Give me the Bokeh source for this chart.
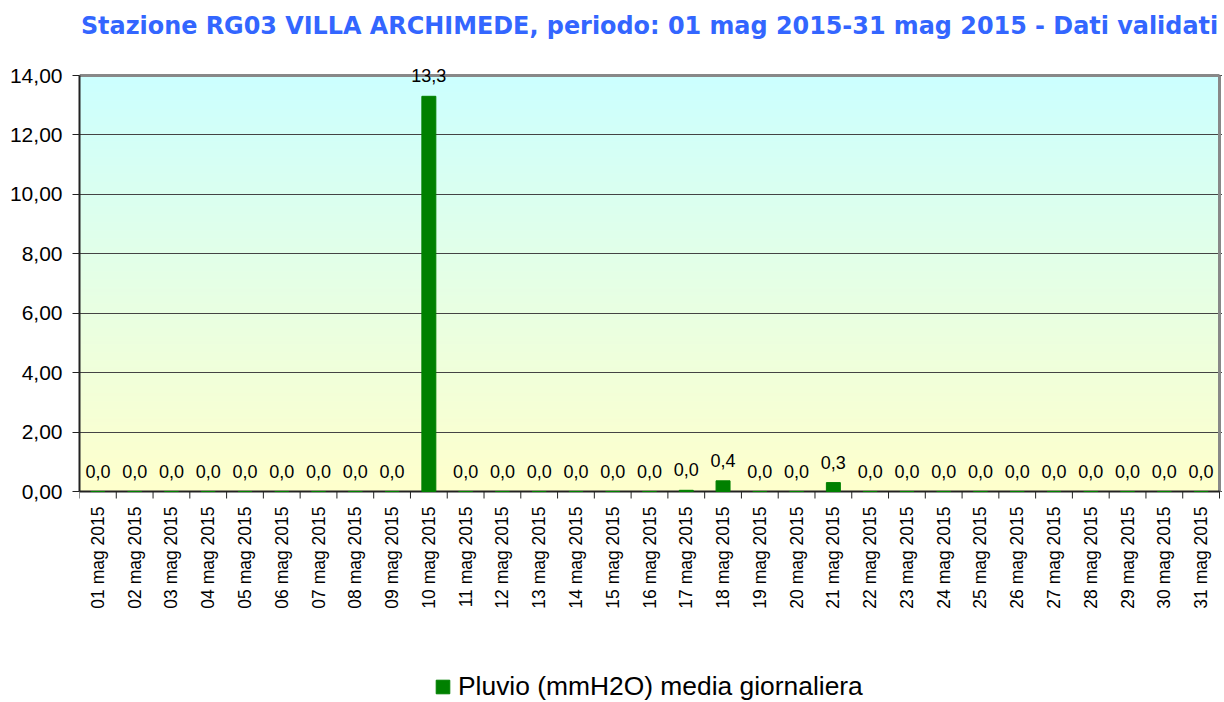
import numpy as np
from bokeh.plotting import figure
from bokeh.models import (Range1d, FixedTicker, ColumnDataSource, Legend, LegendItem)
from bokeh.core.properties import value
from bokeh.embed import file_html
from bokeh.resources import INLINE

# ---- data ----
days = [f"{d:02d} mag 2015" for d in range(1, 32)]
pluvio = [0.0, 0.0, 0.0, 0.0, 0.0, 0.0, 0.0, 0.0, 0.0, 13.3,
          0.0, 0.0, 0.0, 0.0, 0.0, 0.0, 0.04, 0.36, 0.0, 0.0,
          0.3, 0.0, 0.0, 0.0, 0.0, 0.0, 0.0, 0.0, 0.0, 0.0, 0.0]
y_ticks = [0, 2, 4, 6, 8, 10, 12, 14]
y_max = 14
title_text = "Stazione RG03 VILLA ARCHIMEDE, periodo: 01 mag 2015-31 mag 2015 - Dati validati"
series_name = "Pluvio (mmH2O) media giornaliera"

xs = list(range(1, len(days) + 1))
labels = [f"{v:.1f}".replace(".", ",") for v in pluvio]
src = ColumnDataSource(dict(x=xs, top=pluvio, lab=labels))
xsrc = ColumnDataSource(dict(x=xs, lab=days))

FONT = "Liberation Sans"

# ---- layout (pixels) ----
W_LEFT = 79          # space for the y tick labels
CHART_W = 1140       # width of chart area
CHART_TOP = 75       # canvas y of value 14
CHART_H = 416        # height of chart area
CANVAS_H = 702
ppu = CHART_H / y_max                       # pixels per data unit (y)
y_top = y_max + CHART_TOP / ppu
y_bot = -(CANVAS_H - CHART_TOP - CHART_H) / ppu
x_lo, x_hi = 0.5, len(days) + 0.5
xppu = CHART_W / (x_hi - x_lo)
x_end = x_hi + 3 / xppu

p = figure(frame_width=CHART_W + 3, frame_height=CANVAS_H, output_backend="svg",
           toolbar_location=None, x_range=Range1d(x_lo, x_end), y_range=Range1d(y_bot, y_top),
           min_border_left=W_LEFT, min_border_right=0, min_border_top=0, min_border_bottom=0,
           background_fill_color="white", border_fill_color="white")
p.outline_line_color = None
p.xaxis.visible = False

# gradient background (chart area 0..y_max)
n = 256
t = np.linspace(0, 1, n)  # 0 bottom -> 1 top
bottom_c = np.array([255, 255, 204])
top_c = np.array([204, 255, 255])
cols = (bottom_c[None, :] * (1 - t[:, None]) + top_c[None, :] * t[:, None]).astype(np.uint32)
img = np.empty((n, 1), dtype=np.uint32)
view = img.view(dtype=np.uint8).reshape((n, 1, 4))
view[:, 0, 0] = cols[:, 0]
view[:, 0, 1] = cols[:, 1]
view[:, 0, 2] = cols[:, 2]
view[:, 0, 3] = 255
p.image_rgba(image=[img], x=x_lo, y=0, dw=x_hi - x_lo, dh=y_max, level="image")

# grid
p.xgrid.grid_line_color = None
p.ygrid.ticker = FixedTicker(ticks=y_ticks)
p.ygrid.grid_line_color = "#444444"
p.ygrid.grid_line_width = 1
p.ygrid.level = "underlay"
p.ygrid.bounds = (x_lo, x_hi)

# chart-area border (top and right, grey)
p.segment(x0=[x_lo, x_hi], y0=[y_max, 0], x1=[x_hi, x_hi], y1=[y_max, y_max],
          line_color="#888888", line_width=3)

# x axis line + category boundary ticks + labels
p.segment(x0=[x_lo], y0=[0], x1=[x_hi], y1=[0], line_color="#222222", line_width=2)
bounds_x = [x + 0.5 for x in range(0, len(days) + 1)]
p.segment(x0=bounds_x, y0=[0] * len(bounds_x), x1=bounds_x, y1=[-7 / ppu] * len(bounds_x),
          line_color="#222222", line_width=1)
p.text(x="x", y=-15 / ppu, text="lab", source=xsrc, angle=np.pi / 2,
       text_align="right", text_baseline="middle", text_font=value(FONT),
       text_font_size="17.5px", text_color="#000000")

bars = p.vbar(x="x", top="top", width=0.38, bottom=0, source=src,
              fill_color="#008000", line_color="#008000")

p.text(x="x", y="top", text="lab", source=src, text_align="center",
       text_baseline="bottom", y_offset=-14, text_font_size="18px",
       text_font=value(FONT), text_color="#000000")

# title
p.text(x=[(x_lo + x_hi) / 2], y=[y_max + (CHART_TOP - 25) / ppu], text=[title_text],
       text_align="center", text_baseline="middle", text_font=value("DejaVu Sans"),
       text_font_size="23.9px", text_font_style="bold", text_color="#3366FF")

# y axis
p.yaxis.ticker = FixedTicker(ticks=y_ticks)
p.yaxis.bounds = (0, y_max)
p.yaxis.major_label_overrides = {v: f"{v:.2f}".replace(".", ",") for v in y_ticks}
p.yaxis.minor_tick_line_color = None
p.yaxis.major_tick_in = 0
p.yaxis.major_tick_out = 7
p.yaxis.major_tick_line_color = "#222222"
p.yaxis.major_label_text_font = FONT
p.yaxis.major_label_text_font_size = "21px"
p.yaxis.major_label_text_color = "#000000"
p.yaxis.major_label_standoff = 10
p.yaxis.axis_line_color = "#222222"
p.yaxis.axis_line_width = 2

legend = Legend(items=[LegendItem(label=series_name, renderers=[bars])],
                orientation="horizontal", location=(355, 0),
                glyph_width=17, glyph_height=17, label_text_font=FONT,
                label_text_font_size="26.4px", label_text_color="#000000",
                border_line_color=None, background_fill_alpha=0, padding=0,
                spacing=4, label_standoff=7, margin=0)
p.add_layout(legend, "center")

open("out.html", "w").write(file_html(p, INLINE))
